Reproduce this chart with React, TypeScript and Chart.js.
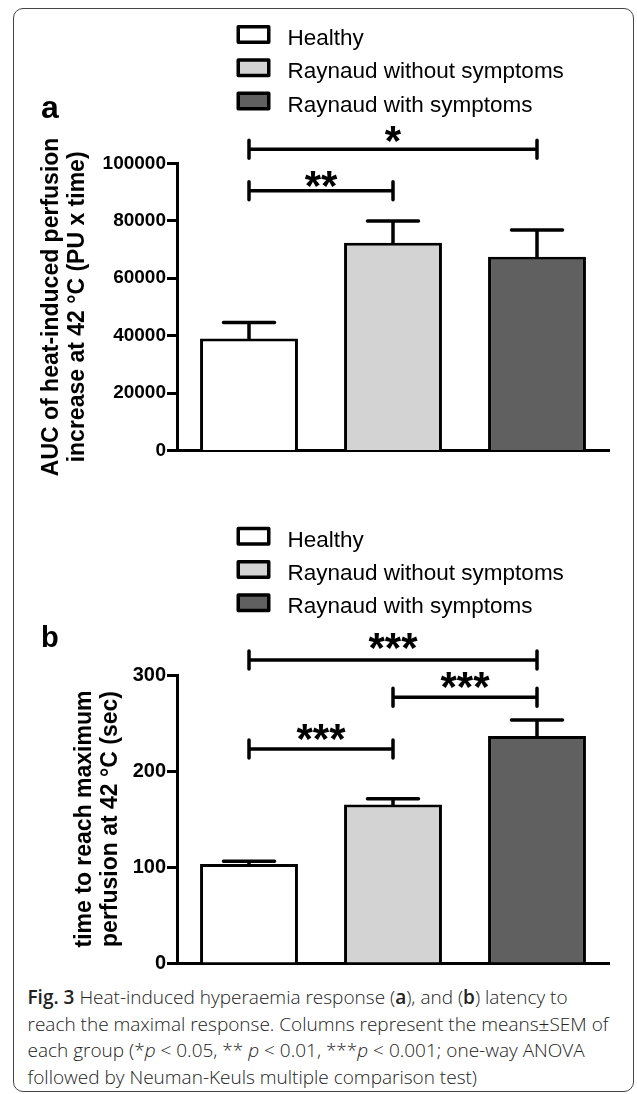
import React, { useEffect, useRef } from "react";
import { Chart, registerables } from "chart.js";

Chart.register(...registerables);

// ---------- data ----------
const groupLabels = ["Healthy", "Raynaud without symptoms", "Raynaud with symptoms"];
const groupFills = ["#ffffff", "#d3d3d3", "#606060"];

// Panel a: AUC of heat-induced perfusion increase (PU x time)
const aucMean = [39000, 72300, 67500];
const aucSem = [5600, 7600, 9300];
const aucAxisRange = [0, 100000];
const aucTickStep = 20000;
const aucTitle = ["AUC of heat-induced perfusion", "increase at 42 \u00b0C (PU x time)"];
const aucBrackets = [
  { from: 0, to: 2, level: 104900, stars: "*", starLevel: 110300 },
  { from: 0, to: 1, level: 90400, stars: "**", starLevel: 94400 },
];

// Panel b: time to reach maximum perfusion (sec)
const timeMean = [103, 165, 236.5];
const timeSem = [3, 6, 16.5];
const timeAxisRange = [0, 300];
const timeTickStep = 100;
const timeTitle = ["time to reach maximum", "perfusion at 42 \u00b0C (sec)"];
const timeBrackets = [
  { from: 0, to: 2, level: 315.6, stars: "***", starLevel: 335.6 },
  { from: 1, to: 2, level: 276.8, stars: "***", starLevel: 295.1 },
  { from: 0, to: 1, level: 222.9, stars: "***", starLevel: 240.9 },
];

const FONT = "'Liberation Sans', Arial, Helvetica, sans-serif";

type Bracket = { from: number; to: number; level: number; stars: string; starLevel: number };

type PanelCfg = {
  letter: string;
  letterSize: number;
  letterBaseline: number;
  top: number;
  height: number;
  padTop: number;
  padBottom: number;
  titlePad: number;
  tickSize: number;
  legendTop: number;
  means: number[];
  sems: number[];
  range: number[];
  step: number;
  title: string[];
  brackets: Bracket[];
};

function makeOverlay(cfg: PanelCfg) {
  return {
    id: "overlay_" + cfg.letter,
    afterDatasetsDraw(chart: any) {
      const ctx = chart.ctx as CanvasRenderingContext2D;
      const yS = chart.scales.y;
      const xS = chart.scales.x;
      const meta = chart.getDatasetMeta(0);
      ctx.save();
      ctx.strokeStyle = "#000";
      ctx.lineWidth = 3.5;
      ctx.lineCap = "round";
      // error bars (upper only)
      meta.data.forEach((bar: any, i: number) => {
        const yTop = yS.getPixelForValue(cfg.means[i] + cfg.sems[i]);
        ctx.beginPath();
        ctx.moveTo(bar.x, bar.y);
        ctx.lineTo(bar.x, yTop);
        ctx.moveTo(bar.x - 25.5, yTop);
        ctx.lineTo(bar.x + 25.5, yTop);
        ctx.stroke();
      });
      // significance brackets
      cfg.brackets.forEach((b) => {
        const x1 = xS.getPixelForValue(b.from);
        const x2 = xS.getPixelForValue(b.to);
        const y = yS.getPixelForValue(b.level);
        ctx.beginPath();
        ctx.moveTo(x1, y);
        ctx.lineTo(x2, y);
        ctx.moveTo(x1, y - 9);
        ctx.lineTo(x1, y + 9);
        ctx.moveTo(x2, y - 9);
        ctx.lineTo(x2, y + 9);
        ctx.stroke();
        ctx.font = `bold 42px ${FONT}`;
        ctx.fillStyle = "#000";
        ctx.textAlign = "center";
        ctx.textBaseline = "alphabetic";
        const m = ctx.measureText(b.stars);
        const cy = yS.getPixelForValue(b.starLevel);
        const base = cy + (m.actualBoundingBoxAscent - m.actualBoundingBoxDescent) / 2;
        ctx.fillText(b.stars, (x1 + x2) / 2, base);
      });
      ctx.restore();
    },
    afterDraw(chart: any) {
      const ctx = chart.ctx as CanvasRenderingContext2D;
      const left = chart.chartArea.left;
      ctx.save();
      // legend
      ctx.font = `22.5px ${FONT}`;
      ctx.textAlign = "left";
      ctx.textBaseline = "alphabetic";
      groupLabels.forEach((g, i) => {
        const top = cfg.legendTop + i * 33.3;
        const bx = left + 59.5;
        ctx.fillStyle = groupFills[i];
        ctx.fillRect(bx + 1.75, top + 1.75, 30.5, 15.5);
        ctx.lineWidth = 3.5;
        ctx.lineJoin = "round";
        ctx.strokeStyle = "#000";
        ctx.strokeRect(bx + 1.75, top + 1.75, 30.5, 15.5);
        ctx.fillStyle = "#000";
        ctx.fillText(g, bx + 51, top + 20);
      });
      // panel letter
      ctx.font = `bold ${cfg.letterSize}px ${FONT}`;
      ctx.fillStyle = "#000";
      ctx.fillText(cfg.letter, 41, cfg.letterBaseline);
      ctx.restore();
    },
  };
}

function Panel({ cfg }: { cfg: PanelCfg }) {
  const ref = useRef<HTMLCanvasElement>(null);
  useEffect(() => {
    if (!ref.current) return;
    const chart = new Chart(ref.current, {
      type: "bar",
      data: {
        labels: groupLabels,
        datasets: [
          {
            data: cfg.means,
            backgroundColor: groupFills,
            borderColor: "#000",
            borderWidth: 3,
            barPercentage: 0.68,
            categoryPercentage: 1,
          },
        ],
      },
      options: {
        animation: false,
        responsive: false,
        devicePixelRatio: 1,
        events: [],
        layout: { padding: { top: cfg.padTop, bottom: cfg.padBottom, left: 0, right: 28 } },
        plugins: { legend: { display: false }, tooltip: { enabled: false }, title: { display: false } },
        scales: {
          x: {
            type: "category",
            ticks: { display: false },
            grid: { display: false, drawTicks: false },
            border: { display: true, color: "#000", width: 3 },
            afterFit: (s: any) => {
              s.height = 0;
            },
          },
          y: {
            min: cfg.range[0],
            max: cfg.range[1],
            ticks: {
              stepSize: cfg.step,
              color: "#000",
              padding: 1,
              font: { family: FONT, size: cfg.tickSize, weight: "bold" },
              callback: (v: any) => String(v),
            },
            grid: {
              display: true,
              drawOnChartArea: false,
              drawTicks: true,
              tickLength: 10,
              tickWidth: 3,
              tickColor: "#000",
              color: "#000",
            },
            border: { display: true, color: "#000", width: 3 },
            title: {
              display: true,
              text: cfg.title,
              color: "#000",
              font: { family: FONT, size: 23, weight: "bold", lineHeight: 1.15 },
              padding: { top: cfg.titlePad, bottom: 0 },
            },
            afterFit: (s: any) => {
              s.width = 177;
            },
          },
        },
      },
      plugins: [makeOverlay(cfg)],
    } as any);
    return () => chart.destroy();
  }, [cfg]);
  return (
    <canvas
      ref={ref}
      width={637}
      height={cfg.height}
      style={{ position: "absolute", left: 0, top: cfg.top, width: 637, height: cfg.height }}
    />
  );
}

const panelA: PanelCfg = {
  letter: "a",
  letterSize: 32,
  letterBaseline: 117.5,
  top: 0,
  height: 480,
  padTop: 163.3,
  padBottom: 29.5,
  titlePad: 38,
  tickSize: 19,
  legendTop: 25,
  means: aucMean,
  sems: aucSem,
  range: aucAxisRange,
  step: aucTickStep,
  title: aucTitle,
  brackets: aucBrackets,
};

const panelB: PanelCfg = {
  letter: "b",
  letterSize: 29,
  letterBaseline: 167,
  top: 480,
  height: 500,
  padTop: 195,
  padBottom: 17,
  titlePad: 71.4,
  tickSize: 20,
  legendTop: 46.7,
  means: timeMean,
  sems: timeSem,
  range: timeAxisRange,
  step: timeTickStep,
  title: timeTitle,
  brackets: timeBrackets,
};

export default function App() {
  return (
    <div style={{ position: "absolute", left: 0, top: 0, width: 637, height: 1094, background: "#fff" }}>
      <div
        style={{
          position: "absolute",
          left: 13,
          top: 8,
          width: 621,
          height: 1084,
          border: "1.5px solid #444",
          borderRadius: 10,
          boxSizing: "border-box",
        }}
      />
      <Panel cfg={panelA} />
      <Panel cfg={panelB} />
      <div
        style={{
          position: "absolute",
          left: 27.5,
          top: 984.4,
          fontFamily: "'Open Sans', sans-serif",
          fontSize: 19,
          lineHeight: "26.4px",
          color: "#222",
          whiteSpace: "nowrap",
          fontWeight: 300,
        }}
      >
        <span style={{ fontWeight: 600 }}>Fig. 3</span> Heat-induced hyperaemia response (
        <span style={{ fontWeight: 600 }}>a</span>), and (<span style={{ fontWeight: 600 }}>b</span>) latency to
        <br />
        reach the maximal response. Columns represent the means±SEM of
        <br />
        each group (*<i>p</i> &lt; 0.05, ** <i>p</i> &lt; 0.01, ***<i>p</i> &lt; 0.001; one-way ANOVA
        <br />
        followed by Neuman-Keuls multiple comparison test)
      </div>
    </div>
  );
}
